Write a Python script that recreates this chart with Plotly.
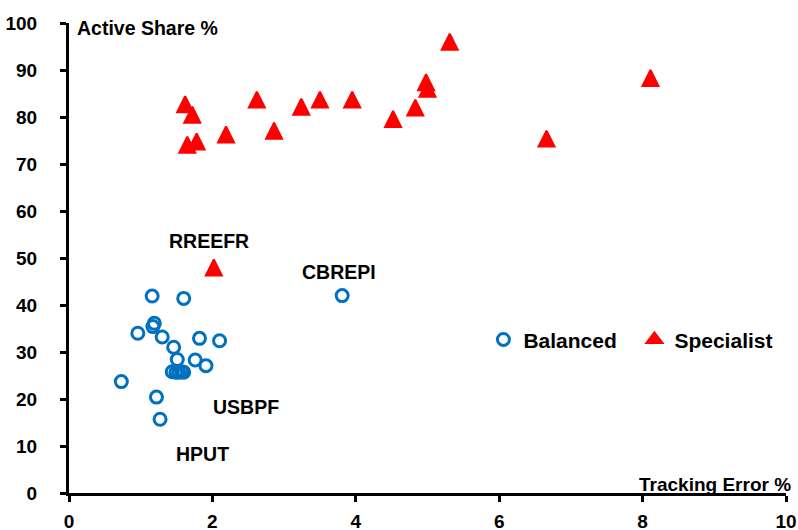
import plotly.graph_objects as go

# Balanced funds: tracking error (%) and active share (%)
balanced_te = [1.16, 1.60, 3.81, 0.96, 1.19, 1.17, 1.30, 1.46, 1.82, 2.10, 1.51, 1.76, 1.91,
               1.44, 1.49, 1.53, 1.57, 1.60, 0.73, 1.22, 1.27]
balanced_as = [41.9, 41.4, 42.0, 34.0, 36.1, 35.4, 33.2, 31.0, 32.9, 32.4, 28.4, 28.3, 27.1,
               25.8, 25.7, 25.7, 25.8, 25.7, 23.7, 20.4, 15.7]

# Specialist funds
specialist_te = [1.62, 1.72, 1.65, 1.78, 2.19, 2.62, 2.86, 3.24, 3.50, 3.95, 4.52, 4.83,
                 4.98, 5.00, 5.31, 6.66, 8.11, 2.02]
specialist_as = [82.7, 80.5, 74.1, 74.8, 76.3, 83.7, 77.1, 82.2, 83.7, 83.7, 79.6, 82.0,
                 87.4, 86.0, 96.0, 75.4, 88.3, 48.0]

x_ticks = [0, 2, 4, 6, 8, 10]
y_ticks = [0, 10, 20, 30, 40, 50, 60, 70, 80, 90, 100]

FONT = "Arial, Liberation Sans, sans-serif"
BLUE = "#0070C0"
RED = "#FF0000"

fig = go.Figure()
fig.add_trace(go.Scatter(
    x=balanced_te, y=balanced_as, mode="markers", name="Balanced", showlegend=False,
    marker=dict(symbol="circle-open", size=12, color=BLUE, line=dict(width=3, color=BLUE)),
))
fig.add_trace(go.Scatter(
    x=specialist_te, y=specialist_as, mode="markers", name="Specialist", showlegend=False,
    marker=dict(symbol="arrow-down", angle=180, standoff=8, size=16, color=RED,
                line=dict(width=2, color=RED)),
))
# legend entries
fig.add_trace(go.Scatter(
    x=[None], y=[None], mode="markers", name="<b>Balanced</b>",
    marker=dict(symbol="circle-open", size=12, color=BLUE, line=dict(width=3, color=BLUE)),
))
fig.add_trace(go.Scatter(
    x=[None], y=[None], mode="markers", name="<b>Specialist</b>",
    marker=dict(symbol="triangle-up", size=14, color=RED, line=dict(width=2, color=RED)),
))

labels = [("RREEFR", 1.95, 53.6), ("CBREPI", 3.76, 47.1), ("USBPF", 2.47, 18.2), ("HPUT", 1.86, 8.2)]
annotations = [dict(x=x, y=y, xref="x", yref="y", text=f"<b>{t}</b>", showarrow=False,
                    font=dict(family=FONT, size=19.5, color="black")) for t, x, y in labels]
annotations.append(dict(x=0, y=1, xref="paper", yref="paper", xanchor="left", yanchor="middle",
                        xshift=6, yshift=-5, text="<b>Active Share %</b>", showarrow=False,
                        font=dict(family=FONT, size=19.5, color="black")))
annotations.append(dict(x=1, y=0, xref="paper", yref="paper", xanchor="right", yanchor="bottom",
                        xshift=6, yshift=-3, text="<b>Tracking Error %</b>", showarrow=False,
                        borderpad=0, font=dict(family=FONT, size=19, color="black")))

axis_common = dict(showline=True, linewidth=3, linecolor="black", ticks="outside",
                   tickwidth=3, ticklen=6, tickcolor="black", showgrid=False, zeroline=False,
                   automargin=False, tickfont=dict(family=FONT, size=19, color="black"))

fig.update_layout(
    margin=dict(l=69, r=12, t=23, b=37),
    plot_bgcolor="white", paper_bgcolor="white",
    font=dict(family=FONT, color="black"),
    xaxis=dict(range=[0, 10], tickvals=x_ticks, ticktext=[f"<b>{v}</b>" for v in x_ticks],
               ticklabelstandoff=3, **axis_common),
    yaxis=dict(range=[0, 100], tickvals=y_ticks, ticktext=[f"<b>{v}</b>" for v in y_ticks],
               ticklabelstandoff=19, **axis_common),
    legend=dict(orientation="h", x=0.578, y=0.326, xanchor="left", yanchor="middle",
                entrywidth=106, font=dict(family=FONT, size=21, color="black"),
                bgcolor="rgba(0,0,0,0)"),
    annotations=annotations,
)

# the figure fills the 798x530 window, pinned to its top-left corner (no page margin)
fig.write_html("out.html", config={"displayModeBar": False}, default_width="798px",
               default_height="530px; position:absolute; top:0; left:0")
